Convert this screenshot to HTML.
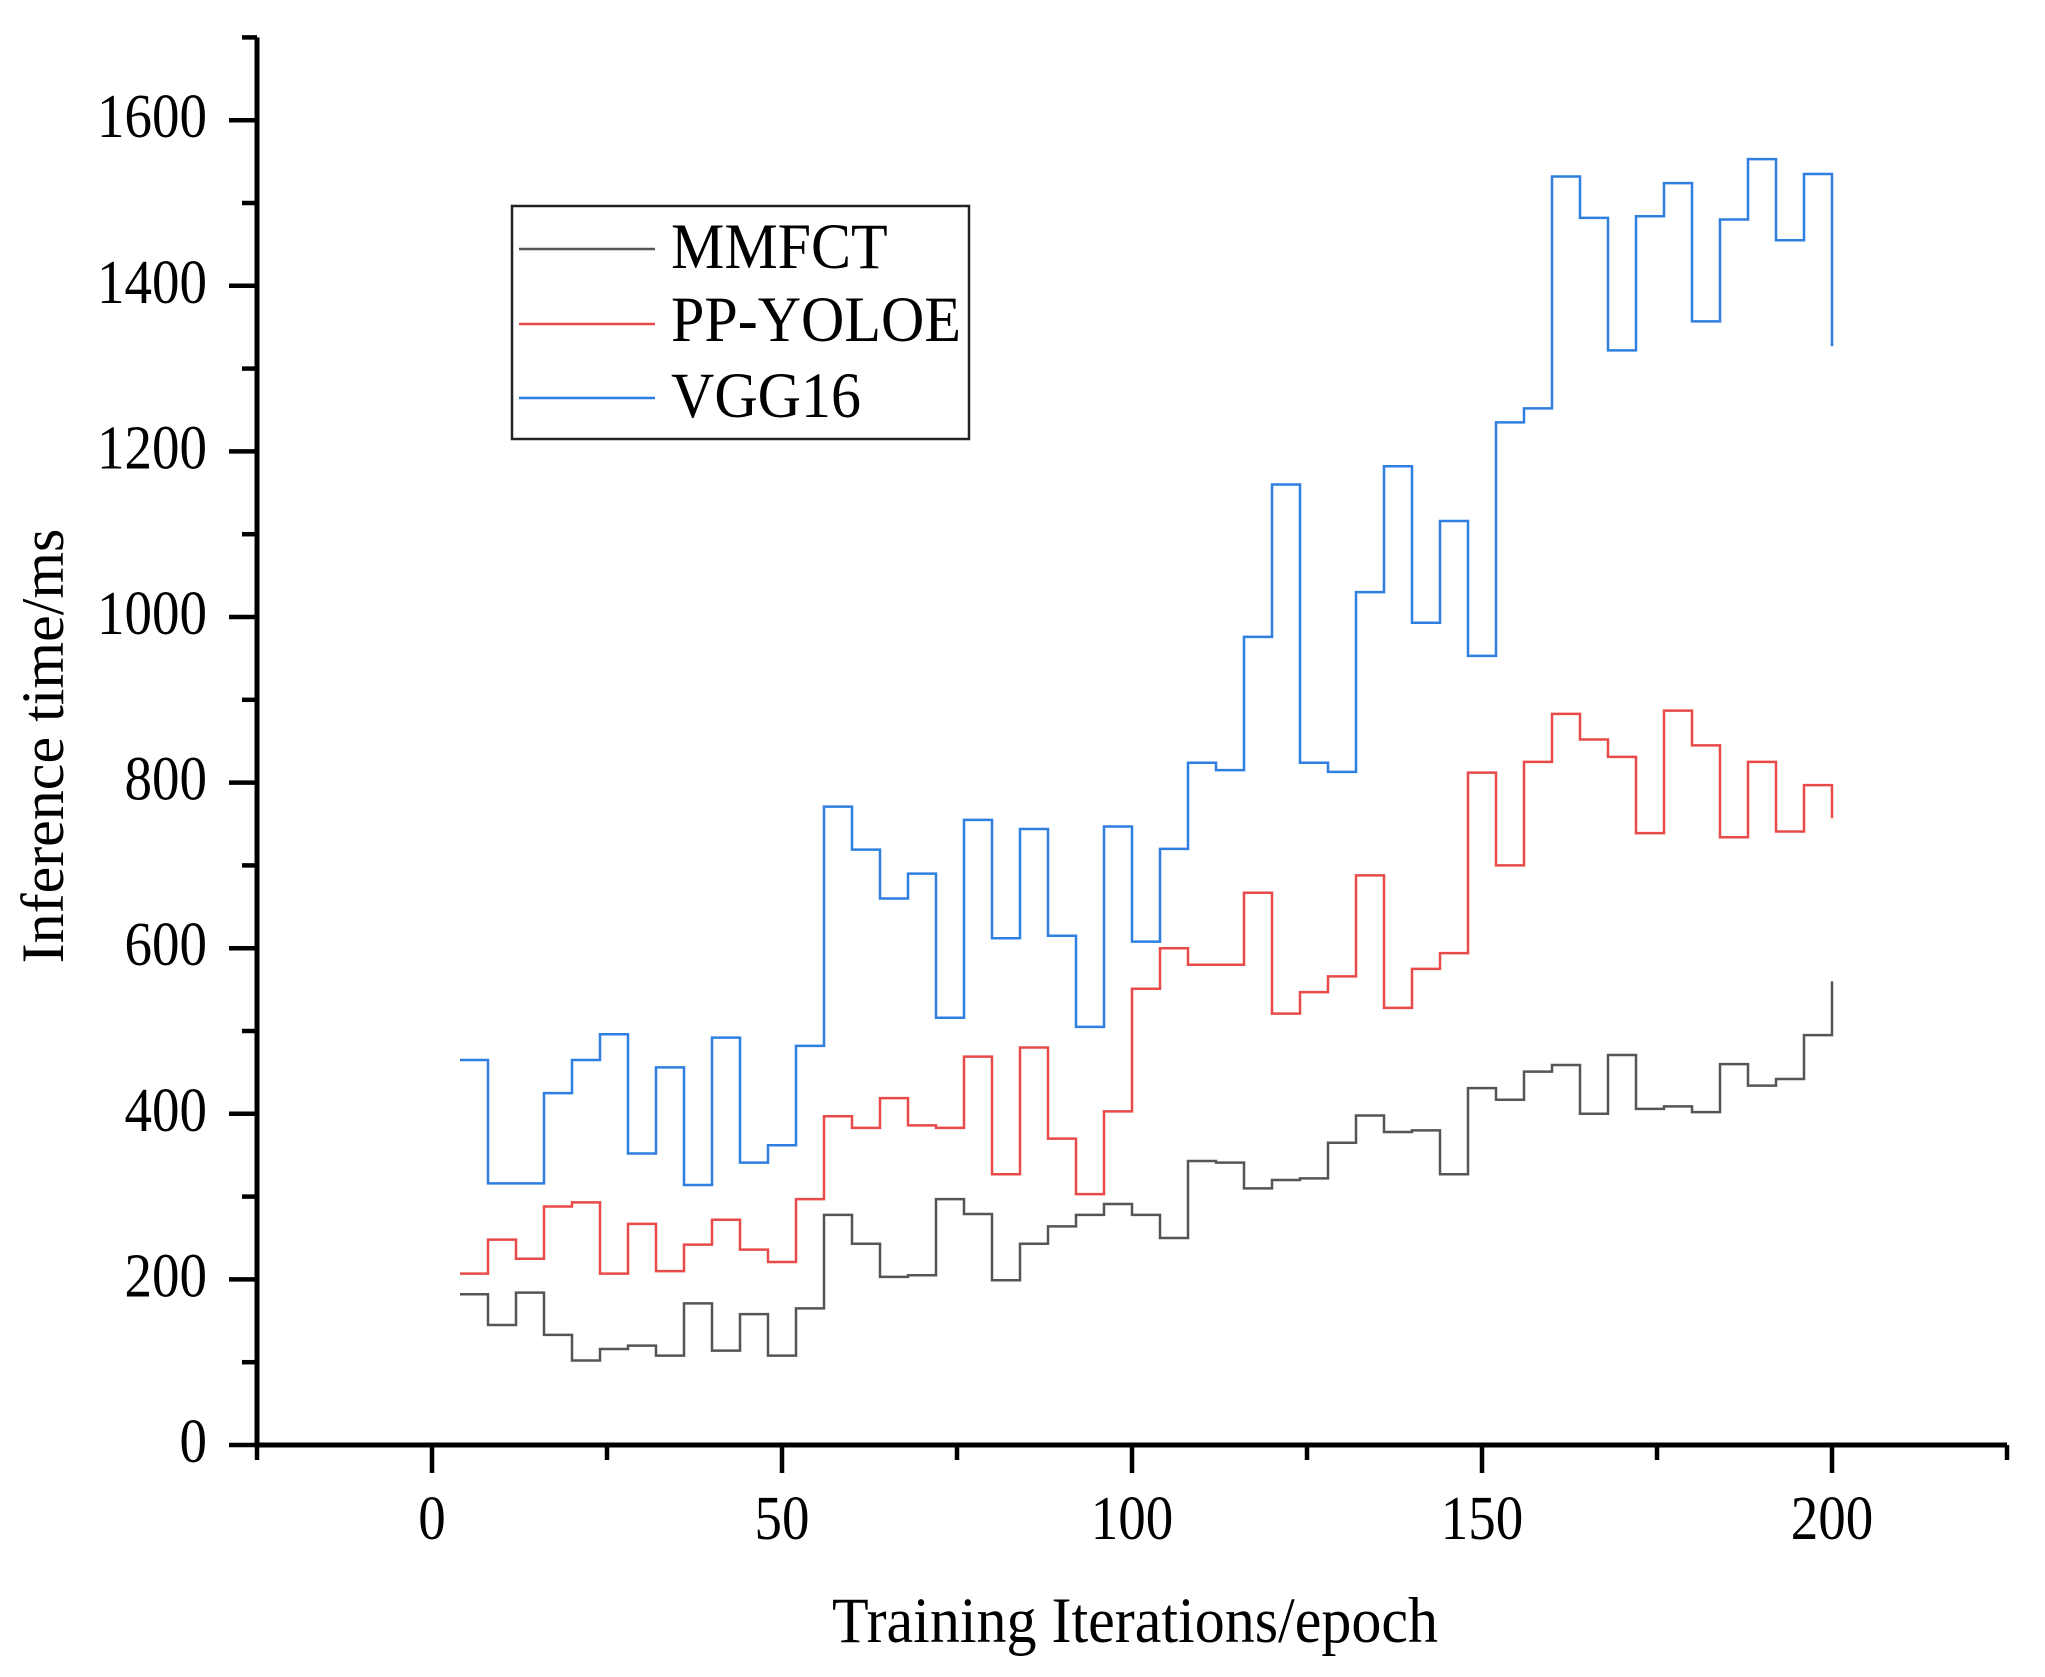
<!DOCTYPE html>
<html>
<head>
<meta charset="utf-8">
<style>
html,body{margin:0;padding:0;background:#fff;}
svg{display:block;}
text{font-family:"Liberation Serif",serif;fill:#000;}
</style>
</head>
<body>
<svg id="chart" width="2045" height="1677" viewBox="0 0 2045 1677" xmlns="http://www.w3.org/2000/svg">
  <g id="axes"></g>
  <g id="series"></g>
  <g id="legend">
    <rect x="512" y="206" width="457" height="233" fill="#fff" stroke="#222" stroke-width="2.5"/>
    <line x1="519" y1="249" x2="655" y2="249" stroke="#555" stroke-width="2.5"/>
    <text font-size="60" transform="translate(671,268) scale(1,1.07)">MMFCT</text>
    <line x1="519" y1="324" x2="655" y2="324" stroke="#e84a4a" stroke-width="2.5"/>
    <text font-size="60" transform="translate(671,341) scale(1,1.07)">PP-YOLOE</text>
    <line x1="519" y1="398" x2="655" y2="398" stroke="#2f7fe0" stroke-width="2.5"/>
    <text font-size="60" transform="translate(671,417) scale(1,1.07)">VGG16</text>
  </g>
  <text font-size="60" text-anchor="middle" transform="translate(63,746) rotate(-90)">Inference time/ms</text>
  <text font-size="60" text-anchor="middle" transform="translate(1135,1642) scale(1,1.07)">Training Iterations/epoch</text>
</svg>
<script>
const epochs = [4,8,12,16,20,24,28,32,36,40,44,48,52,56,60,64,68,72,76,80,84,88,92,96,100,104,108,112,116,120,124,128,132,136,140,144,148,152,156,160,164,168,172,176,180,184,188,192,196,200];
const mmfct = [182,145,184,133,102,116,120,108,171,114,158,108,165,278,243,203,205,297,279,199,243,264,278,291,278,250,343,341,310,320,322,365,398,378,380,327,431,417,451,459,400,471,406,409,402,460,434,442,495,560];
const ppyoloe = [207,248,225,288,293,207,267,210,242,272,236,221,297,397,383,419,386,383,469,327,480,370,303,403,551,600,580,580,667,521,547,566,688,528,575,594,812,700,825,883,852,831,739,887,845,734,825,741,797,757];
const vgg16 = [465,316,316,425,465,496,352,456,314,492,341,362,482,771,719,660,690,516,755,612,744,615,505,747,608,720,824,815,976,1160,824,813,1030,1182,993,1116,953,1235,1252,1532,1482,1322,1484,1524,1357,1480,1553,1455,1535,1327];
const xTicks = [0,50,100,150,200];
const xTickLabels = ["0","50","100","150","200"];
const yTicks = [0,200,400,600,800,1000,1200,1400,1600];
const yTickLabels = ["0","200","400","600","800","1000","1200","1400","1600"];

const NS = "http://www.w3.org/2000/svg";
const X0 = 432, XS = 7.0;
const Y0 = 1445, YS = 0.828;
const xMin = -25, xMax = 225, yMax = 1700;
function sx(v){ return X0 + v*XS; }
function sy(v){ return Y0 - v*YS; }
function mk(tag, attrs, parent){
  const el = document.createElementNS(NS, tag);
  for (const k in attrs) el.setAttribute(k, attrs[k]);
  parent.appendChild(el);
  return el;
}
const axes = document.getElementById('axes');
const yAxis = mk('line', {x1:sx(xMin), y1:sy(0)+2.5, x2:sx(xMin), y2:sy(yMax), stroke:'#000','stroke-width':5}, axes);


const xAxis = mk('line', {x1:sx(xMin)-2.5, y1:sy(0), x2:sx(xMax), y2:sy(0), stroke:'#000','stroke-width':5}, axes);



for (let v = 0; v <= yMax; v += 100) {
  const major = v % 200 === 0;
  const t = mk('line', {x1:sx(xMin)-(major?28:15), y1:sy(v), x2:sx(xMin), y2:sy(v), stroke:'#000','stroke-width':4.5}, axes);
  
  
}
yTicks.forEach((v, i) => {
  const t = mk('text', {'font-size':55, 'text-anchor':'end', transform:'translate(' + (sx(xMin)-50) + ',' + (sy(v)+17) + ') scale(1,1.14)'}, axes);
  t.textContent = yTickLabels[i];
  
  
});
for (let v = xMin; v <= xMax; v += 25) {
  const major = v % 50 === 0;
  const t = mk('line', {x1:sx(v), y1:sy(0), x2:sx(v), y2:sy(0)+(major?28:15), stroke:'#000','stroke-width':4.5}, axes);
  
  
}
xTicks.forEach((v, i) => {
  const t = mk('text', {'font-size':55, 'text-anchor':'middle', transform:'translate(' + sx(v) + ',1539) scale(1,1.14)'}, axes);
  t.textContent = xTickLabels[i];
  
  
});

const series = document.getElementById('series');
function stepPath(vals){
  let d = 'M' + sx(epochs[0]) + ' ' + sy(vals[0]);
  for (let i = 1; i < epochs.length; i++) {
    d += ' H' + sx(epochs[i]) + ' V' + sy(vals[i]);
  }
  return d;
}
const p1 = mk('path', {d:stepPath(mmfct), fill:'none', stroke:'#555', 'stroke-width':2.5}, series);


const p2 = mk('path', {d:stepPath(ppyoloe), fill:'none', stroke:'#e84a4a', 'stroke-width':2.5}, series);


const p3 = mk('path', {d:stepPath(vgg16), fill:'none', stroke:'#2f7fe0', 'stroke-width':2.5}, series);


</script>
</body>
</html>
